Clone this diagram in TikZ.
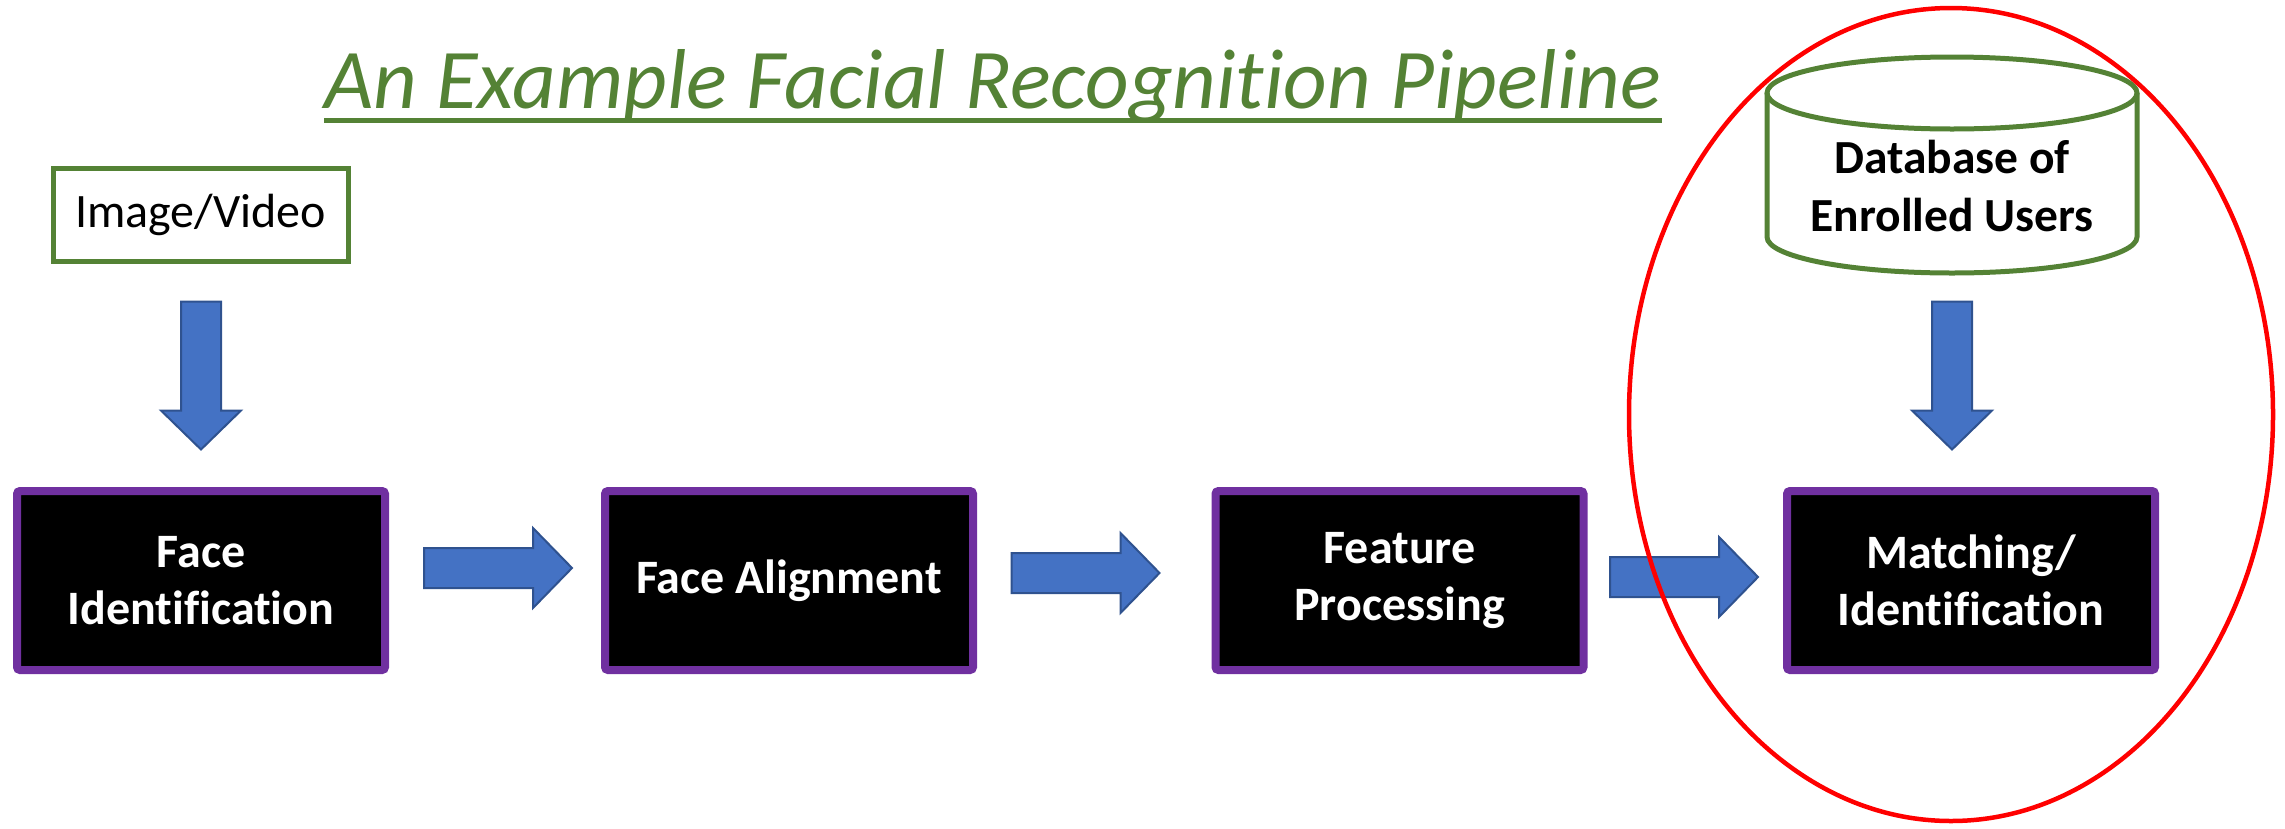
\documentclass[tikz,border=0pt]{standalone}
\usepackage{fontspec}
\setmainfont{Carlito}[Ligatures=NoCommon]
\usetikzlibrary{calc}

\definecolor{pipegreen}{HTML}{548235}
\definecolor{pipepurple}{HTML}{7030A0}
\definecolor{arrowblue}{HTML}{4472C4}
\definecolor{arrowedge}{HTML}{2F528F}
\definecolor{ringred}{HTML}{FF0000}

\tikzset{
  stage/.style={draw=pipepurple, line width=8pt, fill=black, rounded corners=3pt,
    minimum width=368pt, minimum height=179pt, text=white, align=center,
    inner sep=0pt, font=\fontsize{48}{57}\selectfont\bfseries},
  source/.style={draw=pipegreen, line width=5pt, minimum width=295pt,
    minimum height=93pt, inner sep=0pt, font=\fontsize{48}{57}\selectfont},
  dbline/.style={draw=pipegreen, line width=5pt},
  blockarrow/.pic={
    \draw[fill=arrowblue, draw=arrowedge, line width=2pt, line join=miter]
      (-74,-20) -- (35,-20) -- (35,-40) -- (74,0) -- (35,40) -- (35,20)
      -- (-74,20) -- cycle;
  }
}

\begin{document}
\begin{tikzpicture}[x=1pt, y=-1pt]
  \useasboundingbox (0,0) rectangle (2285,828);

  % heading with underline
  \node[anchor=base, inner sep=0pt, text=pipegreen,
        font=\fontsize{85}{100}\selectfont\itshape] (title) at (993,108)
        {An Example Facial Recognition Pipeline};
  \draw[pipegreen, line width=5pt]
    ($(title.base west)+(0,12.7)$) -- ($(title.base east)+(0,12.7)$);

  % input and database
  \node[source] (src) at (200.6,215) {Image/Video};

  \draw[dbline, fill=white] (1767,93) -- (1767,237)
    arc[start angle=180, end angle=360, x radius=185pt, y radius=36pt]
    -- (2137,93);
  \draw[dbline] (1952,93) ellipse[x radius=185pt, y radius=36pt];
  \node[align=center, inner sep=0pt, font=\fontsize{47.5}{58}\selectfont\bfseries]
    (db) at (1952,186) {Database of\\Enrolled Users};

  % processing stages
  \node[stage] (fi) at (201,580.5)   {Face\\Identification};
  \node[stage] (fa) at (789,580.5)   {Face Alignment};
  \node[stage] (fp) at (1399.5,580.5) {Feature\\Processing};
  \node[stage] (mi) at (1971,580.5)  {Matching/\\Identification};

  % block arrows between the stages
  \pic[rotate=-90] at (201,375.5) {blockarrow};
  \pic[rotate=-90] at (1952,375.5) {blockarrow};
  \pic at (498,568) {blockarrow};
  \pic at (1085.5,573) {blockarrow};
  \pic at (1684,577) {blockarrow};

  % highlight ring round the matching step
  \draw[ringred, line width=4.5pt] (1951,414.5)
    ellipse[x radius=322pt, y radius=406.5pt];
\end{tikzpicture}
\end{document}
